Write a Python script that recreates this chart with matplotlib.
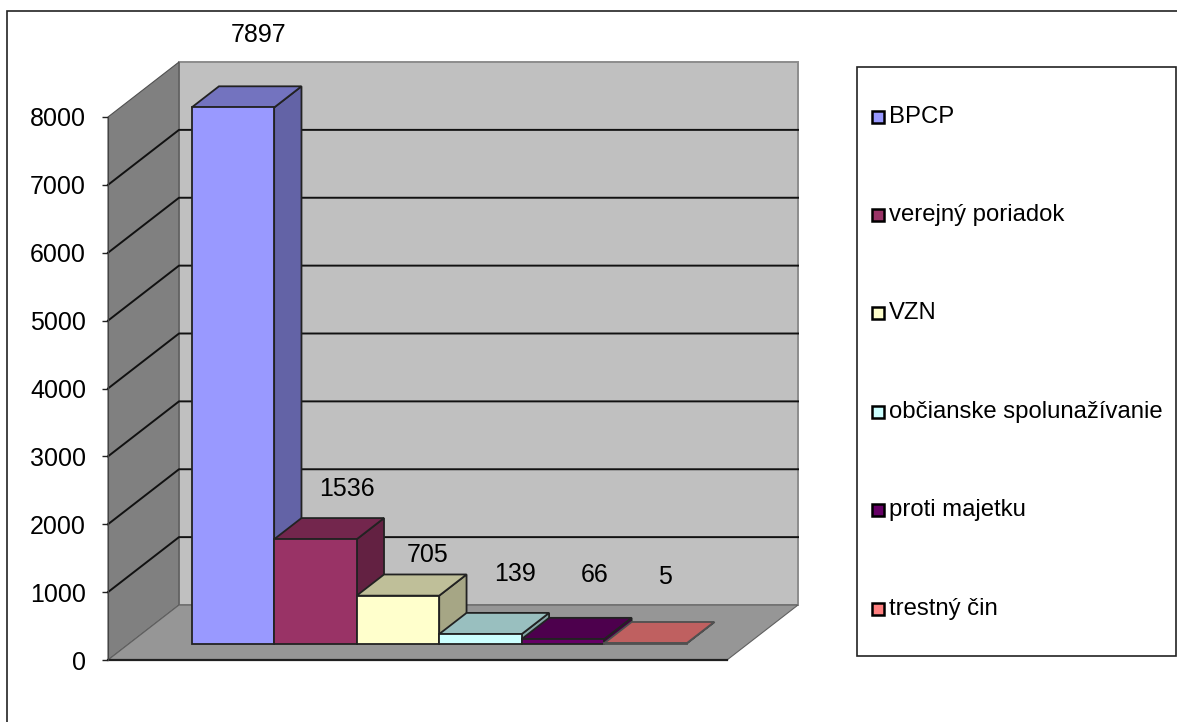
import matplotlib
matplotlib.use('Agg')
import matplotlib.pyplot as plt
from matplotlib.patches import Polygon, Rectangle
from matplotlib.colors import to_rgb

categories = ['BPCP', 'verejný poriadok', 'VZN', 'občianske spolunažívanie', 'proti majetku', 'trestný čin']
values = [7897, 1536, 705, 139, 66, 5]
colors = ['#9999FF', '#993366', '#FFFFCC', '#CCFFFF', '#660066', '#FF8080']
yticks = [0, 1000, 2000, 3000, 4000, 5000, 6000, 7000, 8000]

W, H = 1177, 722
# где лежат подписи значений, в пикселях
label_px = [(259, 35), (347, 489), (428, 555), (515, 574), (595, 575), (665, 577)]
legend_y = [116, 214, 312, 411, 509, 608]

plt.rcParams['font.family'] = ['Liberation Sans', 'DejaVu Sans']

fig = plt.figure(figsize=(W / 100, H / 100), dpi=100)

# Передняя плоскость диаграммы, пиксели: x 108..727, y 117..660
ax = fig.add_axes([108 / W, 1 - 660 / H, 619 / W, 543 / H])
ax.set_xlim(0, 7.5)
ax.set_ylim(0, 8000)
ax.patch.set_visible(False)

# Сдвиг глубины: d=1 это (71, -55) пикселей
DX = 71 / (619 / 7.5)
DY = 55 / (543 / 8000)
GAP = 0.755


def proj(x, v, d):
    return (x + d * DX, v + d * DY)


def face(points, color, edge='black', lw=1.0, z=1):
    ax.add_patch(Polygon([proj(*p) for p in points], closed=True, facecolor=color,
                         edgecolor=edge, linewidth=lw, zorder=z, clip_on=False,
                         joinstyle='miter'))


def shade(color, k):
    return tuple(c * k for c in to_rgb(color))


# Стенки и пол
top = yticks[-1]
face([(0, 0, 1), (7.5, 0, 1), (7.5, top, 1), (0, top, 1)], '#C0C0C0', '#8C8C8C', 1.4)
face([(0, 0, 0), (0, 0, 1), (0, top, 1), (0, top, 0)], '#808080', '#505050', 0.8)
face([(0, 0, 0), (7.5, 0, 0), (7.5, 0, 1), (0, 0, 1)], '#969696', '#606060', 0.8, z=1.2)
ax.plot([0, 7.5], [0, 0], color='#202020', lw=1.6, zorder=1.3, clip_on=False)

# Линии сетки на стенках
for t in yticks[1:-1]:
    xs, ys = zip(proj(0, t, 0), proj(0, t, 1), proj(7.5, t, 1))
    ax.plot(xs, ys, color='#111111', lw=1.4, zorder=1.5, clip_on=False)

# Столбцы, слева направо: следующий перекрывает бок предыдущего
d0, d1 = 0.30, 0.685
for i, (v, c) in enumerate(zip(values, colors)):
    x0, x1 = GAP + i, GAP + i + 1
    z = 2 + i * 0.1
    edge = '#222222' if v > 10 else '#505050'
    face([(x1, 0, d0), (x1, 0, d1), (x1, v, d1), (x1, v, d0)], shade(c, 0.65), edge, 1.3, z)
    face([(x0, v, d0), (x1, v, d0), (x1, v, d1), (x0, v, d1)], shade(c, 0.75), edge, 1.3, z)
    face([(x0, 0, d0), (x1, 0, d0), (x1, v, d0), (x0, v, d0)], c, edge, 1.3, z)

# Подписи значений
for v, (px, py) in zip(values, label_px):
    fig.text(px / W, 1 - py / H, str(v), ha='center', va='center', fontsize=18, color='black')

# Ось Y
ax.set_yticks(yticks)
ax.tick_params(axis='y', length=4.3, width=1, color='#222222', pad=11.5, labelsize=18)
ax.set_xticks([])
for name in ['top', 'right', 'bottom']:
    ax.spines[name].set_visible(False)
ax.spines['left'].set_color('#444444')

# Рамка всей диаграммы, правый и нижний край уходят за картинку
fig.add_artist(Rectangle((7 / W, 1 - 730 / H), 1180 / W, 719 / H, transform=fig.transFigure,
                         fill=False, edgecolor='#222222', lw=1.2))

# Легенда вручную, как в Excel
fig.add_artist(Rectangle((857 / W, 1 - 656 / H), 319 / W, 589 / H, transform=fig.transFigure,
                         facecolor='white', edgecolor='#222222', lw=1.2))
for name, c, py in zip(categories, colors, legend_y):
    fig.add_artist(Rectangle((872 / W, 1 - (py + 7) / H), 12 / W, 12 / H, transform=fig.transFigure,
                             facecolor=c, edgecolor='black', lw=1.8))
    fig.text(889 / W, 1 - (py + 1) / H, name, ha='left', va='center', fontsize=17.2, color='black')

fig.savefig('out.png', dpi=100, facecolor='white')
